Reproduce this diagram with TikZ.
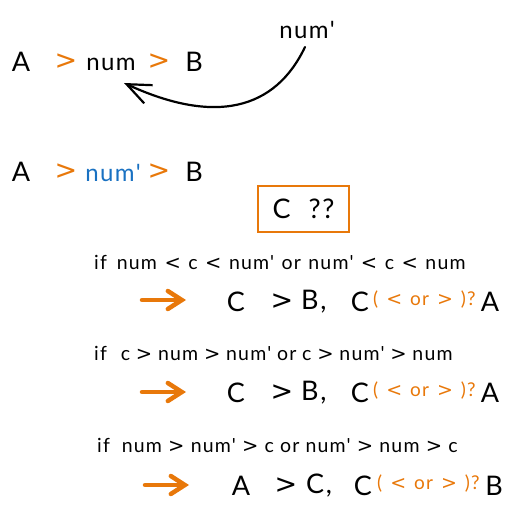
\documentclass[tikz,border=0pt]{standalone}
\usepackage{fontspec}
\setmainfont{Lato}
\newfontfamily\hand[LetterSpace=6]{Lato}
\newfontfamily\symf{DejaVu Sans}
\newcommand\LT{{\symf\char"3C}}
\newcommand\GT{{\symf\char"3E}}
\usetikzlibrary{arrows.meta}
\definecolor{xorange}{HTML}{E8780A}
\definecolor{xblue}{HTML}{1971C2}
\newcommand\condfont{\hand\fontsize{19.5}{22}\selectfont\spaceskip=7.5pt\relax}
\newcommand\smallfont{\hand\fontsize{19}{22}\selectfont\spaceskip=8pt\relax}
\newcommand\bigfont{\hand\fontsize{24}{27}\selectfont}
\newcommand\capfont{\hand\fontsize{27}{30}\selectfont}
\newcommand\gtfont{\hand\fontsize{27}{30}\selectfont}
\tikzset{
  big/.style={inner sep=0pt, font=\bigfont, text=black},
  capt/.style={inner sep=0pt, font=\capfont, text=black},
  bigo/.style={inner sep=0pt, font=\gtfont, text=xorange},
  bigg/.style={inner sep=0pt, font=\gtfont, text=black},
  cond/.style={inner sep=0pt, anchor=west, font=\condfont},
  small/.style={inner sep=0pt, anchor=west, font=\smallfont, text=xorange},
  fatarrow/.style={draw=xorange, line width=4.5pt, line cap=round, -{Straight Barb[length=14pt,width=18pt,line cap=round]}},
  curvarrow/.style={draw=black, line width=2.2pt, line cap=round, -{Straight Barb[length=24pt,width=20pt]}},
  qbox/.style={draw=xorange, line width=1.8pt, minimum width=91pt, minimum height=46pt, inner sep=0pt, font=\capfont}
}
\begin{document}
\begin{tikzpicture}[x=1pt,y=-1pt]
\useasboundingbox (0,0) rectangle (516,513);
% row 1
\node[capt] (a1) at (21,62) {A};
\node[bigo] (g1) at (66,62) {\GT};
\node[big] (n1) at (111,64) {num};
\node[bigo] (g2) at (159,62) {\GT};
\node[capt] (b1) at (194,62) {B};
\node[big] (np) at (307,30) {num'};
\coordinate (cs) at (305,47);
\coordinate (ce) at (124,83);
\draw[curvarrow] (cs) .. controls (275,110) and (215,125) .. (ce);
% row 2
\node[capt] (a2) at (21,172) {A};
\node[bigo] (g3) at (66,172) {\GT};
\node[big, text=xblue] (n2) at (113,173) {num'};
\node[bigo] (g4) at (159,172) {\GT};
\node[capt] (b2) at (194,172) {B};
\node[qbox] (box) at (303.5,209) {C\hspace{18pt}??};
% case 1
\node[cond] (if1) at (94,262) {if\hspace{10pt}num \LT{} c \LT{} num' or num' \LT{} c \LT{} num};
\coordinate (s1) at (142,300);
\coordinate (e1) at (186,300);
\draw[fatarrow] (s1) -- (e1);
\node[capt] (r1c) at (236,302) {C};
\node[bigg] (r1g) at (282,302) {\GT};
\node[capt,anchor=west] (r1b) at (301,302) {B,};
\node[capt] (r1c2) at (360,302) {C};
\node[small] (r1o) at (373,300) {( \LT{} or \GT{} )?};
\node[capt] (r1a) at (490,302) {A};
% case 2
\node[cond] (if2) at (94,353) {\spaceskip=5.8pt\relax if\hspace{14pt}c \GT{} num \GT{} num' or c \GT{} num' \GT{} num};
\coordinate (s2) at (142,392);
\coordinate (e2) at (186,392);
\draw[fatarrow] (s2) -- (e2);
\node[capt] (r2c) at (236,393) {C};
\node[bigg] (r2g) at (282,393) {\GT};
\node[capt,anchor=west] (r2b) at (301,393) {B,};
\node[capt] (r2c2) at (360,393) {C};
\node[small] (r2o) at (373,391) {( \LT{} or \GT{} )?};
\node[capt] (r2a) at (490,393) {A};
% case 3
\node[cond] (if3) at (97,445) {\spaceskip=6.2pt\relax if\hspace{12pt}num \GT{} num' \GT{} c or num' \GT{} num \GT{} c};
\coordinate (s3) at (145,485);
\coordinate (e3) at (189,485);
\draw[fatarrow] (s3) -- (e3);
\node[capt] (r3a) at (241,486) {A};
\node[bigg] (r3g) at (286,486) {\GT};
\node[capt,anchor=west] (r3c) at (306,486) {C,};
\node[capt] (r3c2) at (363,486) {C};
\node[small] (r3o) at (377,484) {( \LT{} or \GT{} )?};
\node[capt] (r3b) at (494,486) {B};
\end{tikzpicture}
\end{document}
